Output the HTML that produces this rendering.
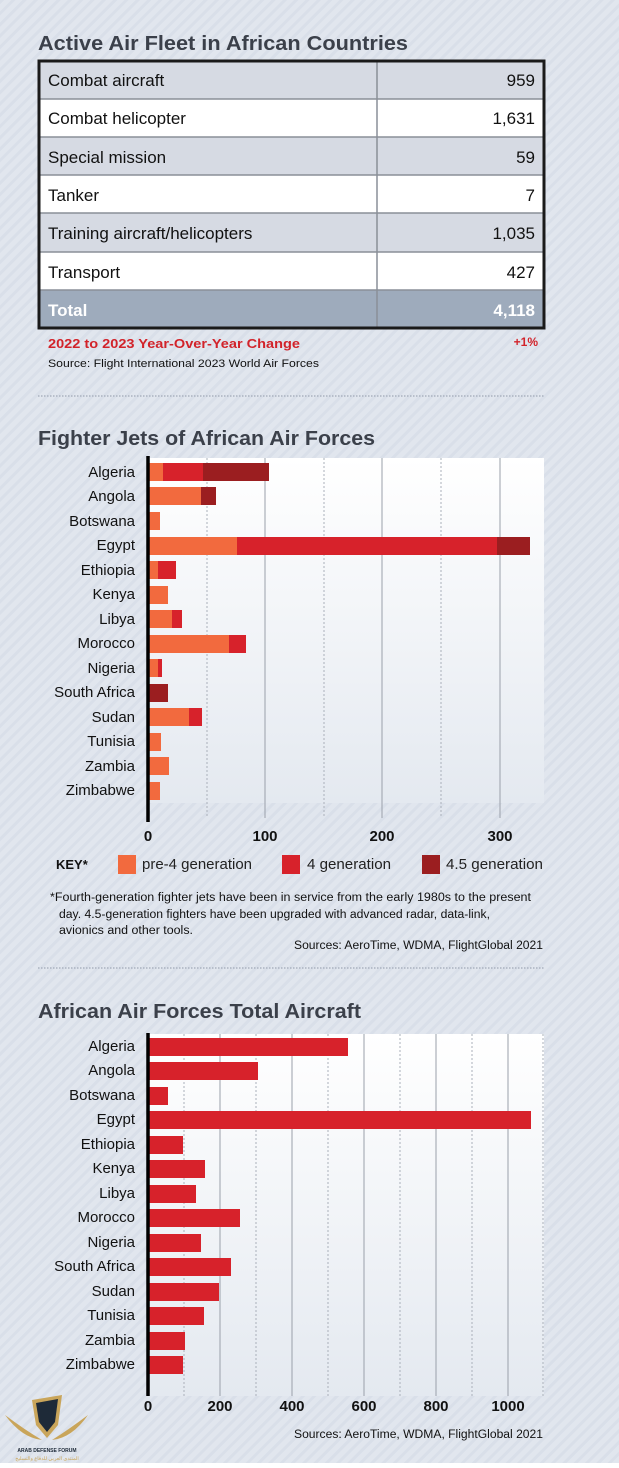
<!DOCTYPE html>
<html><head><meta charset="utf-8"><style>html,body{margin:0;padding:0}body{width:619px;height:1463px;overflow:hidden}</style></head><body>
<svg width="619" height="1463" xmlns="http://www.w3.org/2000/svg" font-family="Liberation Sans, sans-serif">
<defs>
<pattern id="st" width="8" height="8" patternUnits="userSpaceOnUse" patternTransform="rotate(45)">
<rect width="8" height="8" fill="#e1e6ee"/><rect width="3" height="8" fill="#d9dfe9"/></pattern>
<linearGradient id="pg" x1="0" y1="0" x2="0" y2="1"><stop offset="0" stop-color="#ffffff"/><stop offset="1" stop-color="#e4e9f0"/></linearGradient>
</defs>
<rect width="619" height="1463" fill="url(#st)"/>
<text x="38" y="50" font-size="20" font-weight="bold" fill="#3b404a" textLength="370" lengthAdjust="spacingAndGlyphs">Active Air Fleet in African Countries</text>
<g font-size="17" fill="#111">
<rect x="39" y="61" width="505" height="38" fill="#d6dae3"/>
<rect x="39" y="99" width="505" height="38" fill="#fff"/>
<rect x="39" y="137" width="505" height="38" fill="#d6dae3"/>
<rect x="39" y="175" width="505" height="38" fill="#fff"/>
<rect x="39" y="213" width="505" height="39" fill="#d6dae3"/>
<rect x="39" y="252" width="505" height="38" fill="#fff"/>
<rect x="39" y="290" width="505" height="38" fill="#9eabbc"/>
<g stroke="#8a8f98" stroke-width="1.5"><line x1="39" x2="544" y1="99" y2="99"/><line x1="39" x2="544" y1="137" y2="137"/><line x1="39" x2="544" y1="175" y2="175"/><line x1="39" x2="544" y1="213" y2="213"/><line x1="39" x2="544" y1="252" y2="252"/><line x1="39" x2="544" y1="290" y2="290"/><line x1="377" x2="377" y1="61" y2="328"/></g>
<rect x="39" y="61" width="505" height="267" fill="none" stroke="#1a1a1a" stroke-width="3"/>
<text x="48" y="86">Combat aircraft</text><text x="535" y="86" text-anchor="end">959</text>
<text x="48" y="124">Combat helicopter</text><text x="535" y="124" text-anchor="end">1,631</text>
<text x="48" y="163">Special mission</text><text x="535" y="163" text-anchor="end">59</text>
<text x="48" y="201">Tanker</text><text x="535" y="201" text-anchor="end">7</text>
<text x="48" y="239">Training aircraft/helicopters</text><text x="535" y="239" text-anchor="end">1,035</text>
<text x="48" y="278">Transport</text><text x="535" y="278" text-anchor="end">427</text>
<text x="48" y="316" font-weight="bold" fill="#fff">Total</text><text x="535" y="316" text-anchor="end" font-weight="bold" fill="#fff">4,118</text>
</g>
<text x="48" y="348" font-size="12.5" font-weight="bold" fill="#d2232a" textLength="252" lengthAdjust="spacingAndGlyphs">2022 to 2023 Year-Over-Year Change</text>
<text x="538" y="346" font-size="12" font-weight="bold" fill="#d2232a" text-anchor="end">+1%</text>
<text x="48" y="367" font-size="11" fill="#111" textLength="271" lengthAdjust="spacingAndGlyphs">Source: Flight International 2023 World Air Forces</text>
<line x1="38" x2="544" y1="396" y2="396" stroke="#aab2bf" stroke-width="1.5" stroke-dasharray="1.5 1.5"/>

<text x="38" y="445" font-size="20" font-weight="bold" fill="#3b404a" textLength="337" lengthAdjust="spacingAndGlyphs">Fighter Jets of African Air Forces</text>
<rect x="148" y="458" width="396" height="345" fill="url(#pg)"/>
<g stroke="#9aa0aa" stroke-width="1"><line x1="265" x2="265" y1="458" y2="818"/><line x1="382" x2="382" y1="458" y2="818"/><line x1="500" x2="500" y1="458" y2="818"/></g>
<g stroke="#aab0ba" stroke-width="1" stroke-dasharray="2 2"><line x1="207" x2="207" y1="458" y2="818"/><line x1="324" x2="324" y1="458" y2="818"/><line x1="441" x2="441" y1="458" y2="818"/></g>
<g transform="translate(148,0)">
<g fill="#f26a3e">
<rect x="0" y="463" width="15" height="18"/><rect x="0" y="487" width="53" height="18"/><rect x="0" y="512" width="12" height="18"/><rect x="0" y="537" width="89" height="18"/><rect x="0" y="561" width="10" height="18"/><rect x="0" y="586" width="20" height="18"/><rect x="0" y="610" width="24" height="18"/><rect x="0" y="635" width="81" height="18"/><rect x="0" y="659" width="10" height="18"/><rect x="0" y="708" width="41" height="18"/><rect x="0" y="733" width="13" height="18"/><rect x="0" y="757" width="21" height="18"/><rect x="0" y="782" width="12" height="18"/>
</g>
<g fill="#d7222b">
<rect x="15" y="463" width="40" height="18"/><rect x="89" y="537" width="260" height="18"/><rect x="10" y="561" width="18" height="18"/><rect x="24" y="610" width="10" height="18"/><rect x="81" y="635" width="17" height="18"/><rect x="10" y="659" width="4" height="18"/><rect x="41" y="708" width="13" height="18"/>
</g>
<g fill="#9b1e20">
<rect x="55" y="463" width="66" height="18"/><rect x="53" y="487" width="15" height="18"/><rect x="349" y="537" width="33" height="18"/><rect x="0" y="684" width="20" height="18"/>
</g>
</g>
<line x1="148" x2="148" y1="456" y2="822" stroke="#000" stroke-width="3.5"/>
<g font-size="15" fill="#111" text-anchor="end">
<text x="135" y="477">Algeria</text><text x="135" y="501">Angola</text><text x="135" y="526">Botswana</text><text x="135" y="550">Egypt</text><text x="135" y="575">Ethiopia</text><text x="135" y="599">Kenya</text><text x="135" y="624">Libya</text><text x="135" y="648">Morocco</text><text x="135" y="673">Nigeria</text><text x="135" y="697">South Africa</text><text x="135" y="722">Sudan</text><text x="135" y="746">Tunisia</text><text x="135" y="771">Zambia</text><text x="135" y="795">Zimbabwe</text>
</g>
<g font-size="15" font-weight="bold" fill="#111" text-anchor="middle">
<text x="148" y="841">0</text><text x="265" y="841">100</text><text x="382" y="841">200</text><text x="500" y="841">300</text>
</g>
<text x="56" y="869" font-size="13" font-weight="bold" fill="#111">KEY*</text>
<rect x="118" y="855" width="18" height="19" fill="#f26a3e"/><text x="142" y="869" font-size="14.5" fill="#222" textLength="110" lengthAdjust="spacingAndGlyphs">pre-4 generation</text>
<rect x="282" y="855" width="18" height="19" fill="#d7222b"/><text x="307" y="869" font-size="14.5" fill="#222" textLength="84" lengthAdjust="spacingAndGlyphs">4 generation</text>
<rect x="422" y="855" width="18" height="19" fill="#9b1e20"/><text x="446" y="869" font-size="14.5" fill="#222" textLength="97" lengthAdjust="spacingAndGlyphs">4.5 generation</text>
<g font-size="11.5" fill="#111">
<text x="50" y="901" textLength="481" lengthAdjust="spacingAndGlyphs">*Fourth-generation fighter jets have been in service from the early 1980s to the present</text>
<text x="59" y="918" textLength="431" lengthAdjust="spacingAndGlyphs">day. 4.5-generation fighters have been upgraded with advanced radar, data-link,</text>
<text x="59" y="934" textLength="134" lengthAdjust="spacingAndGlyphs">avionics and other tools.</text>
<text x="543" y="949" text-anchor="end" textLength="249" lengthAdjust="spacingAndGlyphs">Sources: AeroTime, WDMA, FlightGlobal 2021</text>
</g>
<line x1="38" x2="544" y1="968" y2="968" stroke="#aab2bf" stroke-width="1.5" stroke-dasharray="1.5 1.5"/>

<text x="38" y="1018" font-size="20" font-weight="bold" fill="#3b404a" textLength="323" lengthAdjust="spacingAndGlyphs">African Air Forces Total Aircraft</text>
<rect x="148" y="1034" width="396" height="362" fill="url(#pg)"/>
<g stroke="#9aa0aa" stroke-width="1"><line x1="220" x2="220" y1="1034" y2="1396"/><line x1="292" x2="292" y1="1034" y2="1396"/><line x1="364" x2="364" y1="1034" y2="1396"/><line x1="436" x2="436" y1="1034" y2="1396"/><line x1="508" x2="508" y1="1034" y2="1396"/></g>
<g stroke="#aab0ba" stroke-width="1" stroke-dasharray="2 2"><line x1="184" x2="184" y1="1034" y2="1396"/><line x1="256" x2="256" y1="1034" y2="1396"/><line x1="328" x2="328" y1="1034" y2="1396"/><line x1="400" x2="400" y1="1034" y2="1396"/><line x1="472" x2="472" y1="1034" y2="1396"/><line x1="543" x2="543" y1="1034" y2="1396"/></g>
<g fill="#d7222b" transform="translate(148,0)">
<rect x="0" y="1038" width="200" height="18"/><rect x="0" y="1062" width="110" height="18"/><rect x="0" y="1087" width="20" height="18"/><rect x="0" y="1111" width="383" height="18"/><rect x="0" y="1136" width="35" height="18"/><rect x="0" y="1160" width="57" height="18"/><rect x="0" y="1185" width="48" height="18"/><rect x="0" y="1209" width="92" height="18"/><rect x="0" y="1234" width="53" height="18"/><rect x="0" y="1258" width="83" height="18"/><rect x="0" y="1283" width="71" height="18"/><rect x="0" y="1307" width="56" height="18"/><rect x="0" y="1332" width="37" height="18"/><rect x="0" y="1356" width="35" height="18"/>
</g>
<line x1="148" x2="148" y1="1033" y2="1396" stroke="#000" stroke-width="3.5"/>
<g font-size="15" fill="#111" text-anchor="end">
<text x="135" y="1051">Algeria</text><text x="135" y="1075">Angola</text><text x="135" y="1100">Botswana</text><text x="135" y="1124">Egypt</text><text x="135" y="1149">Ethiopia</text><text x="135" y="1173">Kenya</text><text x="135" y="1198">Libya</text><text x="135" y="1222">Morocco</text><text x="135" y="1247">Nigeria</text><text x="135" y="1271">South Africa</text><text x="135" y="1296">Sudan</text><text x="135" y="1320">Tunisia</text><text x="135" y="1345">Zambia</text><text x="135" y="1369">Zimbabwe</text>
</g>
<g font-size="15" font-weight="bold" fill="#111" text-anchor="middle">
<text x="148" y="1411">0</text><text x="220" y="1411">200</text><text x="292" y="1411">400</text><text x="364" y="1411">600</text><text x="436" y="1411">800</text><text x="508" y="1411">1000</text>
</g>
<text x="543" y="1438" font-size="11.5" fill="#111" text-anchor="end" textLength="249" lengthAdjust="spacingAndGlyphs">Sources: AeroTime, WDMA, FlightGlobal 2021</text>
<path d="M32 1400 L62 1395 L58 1425 L47 1438 L36 1425 Z" fill="#c9a55a"/>
<path d="M36 1403 L58 1399 L55 1422 L47 1432 L39 1422 Z" fill="#1e2a38"/>
<path d="M5 1415 Q25 1430 42 1440 Q22 1438 5 1415Z M88 1415 Q68 1430 52 1440 Q72 1438 88 1415Z" fill="#c9a55a"/>
<text x="47" y="1452" font-size="5" fill="#1e2a38" text-anchor="middle" font-weight="bold">ARAB DEFENSE FORUM</text>
<text x="47" y="1460" font-size="5" fill="#c9a55a" text-anchor="middle">المنتدى العربي للدفاع والتسليح</text>
</svg>
</body></html>
